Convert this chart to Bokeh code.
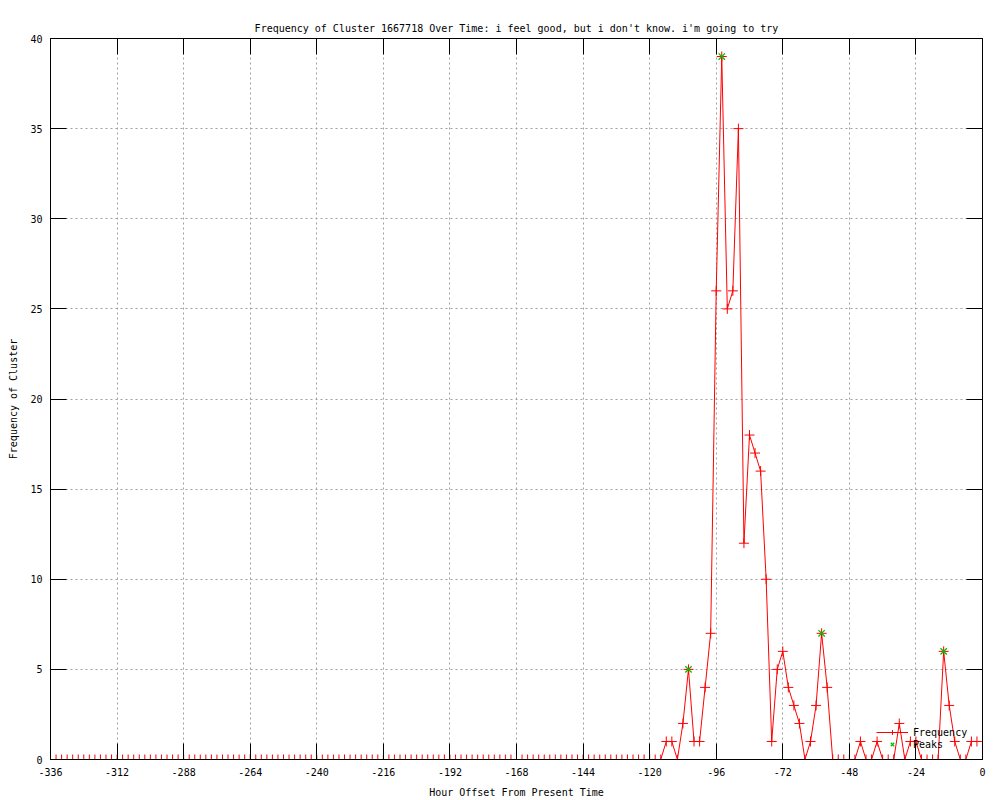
from bokeh.plotting import figure
from bokeh.models import Range1d, LinearAxis, FixedTicker, Legend, LegendItem, Title
from bokeh.embed import file_html
from bokeh.resources import INLINE

# ---- data ----
hours = list(range(-336, 0, 2))  # every two hours, -336 .. -2
frequency = [
    0, 0, 0, 0, 0, 0, 0, 0, 0, 0,   # -336 .. -318
    0, 0, 0, 0, 0, 0, 0, 0, 0, 0,   # -316 .. -298
    0, 0, 0, 0, 0, 0, 0, 0, 0, 0,   # -296 .. -278
    0, 0, 0, 0, 0, 0, 0, 0, 0, 0,   # -276 .. -258
    0, 0, 0, 0, 0, 0, 0, 0, 0, 0,   # -256 .. -238
    0, 0, 0, 0, 0, 0, 0, 0, 0, 0,   # -236 .. -218
    0, 0, 0, 0, 0, 0, 0, 0, 0, 0,   # -216 .. -198
    0, 0, 0, 0, 0, 0, 0, 0, 0, 0,   # -196 .. -178
    0, 0, 0, 0, 0, 0, 0, 0, 0, 0,   # -176 .. -158
    0, 0, 0, 0, 0, 0, 0, 0, 0, 0,   # -156 .. -138
    0, 0, 0, 0, 0, 0, 0, 0, 0, 0,   # -136 .. -118
    0,                              # -116
    1, 1, 0, 2, 5, 1, 1, 4, 7, 26,  # -114 .. -96
    39, 25, 26, 35, 12, 18, 17, 16, 10, 1,  # -94 .. -76
    5, 6, 4, 3, 2, 0, 1, 3, 7, 4,   # -74 .. -56
    0, 0, 0, 0, 0, 1, 0, 0, 1, 0,   # -54 .. -36
    0, 0, 2, 0, 1, 1, 0, 0, 0, 0,   # -34 .. -16
    6, 3, 1, 0, 0, 1, 1,            # -14 .. -2
]
peak_hours = [-106, -94, -58, -14]
peak_values = [5, 39, 7, 6]

x_ticks = [-336, -312, -288, -264, -240, -216, -192, -168, -144, -120, -96, -72, -48, -24, 0]
x_tick_labels = ["-336", "-312", "-288", "-264", "-240", "-216", "-192", "-168",
                 "-144", "-120", "-96", "-72", "-48", "-24", "0"]
y_ticks = [0, 5, 10, 15, 20, 25, 30, 35, 40]
y_tick_labels = ["0", "5", "10", "15", "20", "25", "30", "35", "40"]
title_text = "Frequency of Cluster 1667718 Over Time: i feel good, but i don't know. i'm going to try"

FONT = "DejaVu Sans Mono"
FS = "10px"

p = figure(width=1000, height=800, output_backend="svg", toolbar_location=None,
           x_range=Range1d(-336, 0), y_range=Range1d(0, 40),
           min_border_left=50, min_border_right=18, min_border_top=38, min_border_bottom=40)
p.title = None

p.background_fill_color = "white"
p.border_fill_color = "white"
p.outline_line_color = "black"
p.outline_line_width = 1

# axes
p.xaxis.ticker = FixedTicker(ticks=x_ticks)
p.xaxis.major_label_overrides = {t: s for t, s in zip(x_ticks, x_tick_labels)}
p.yaxis.ticker = FixedTicker(ticks=y_ticks)
p.yaxis.major_label_overrides = {t: s for t, s in zip(y_ticks, y_tick_labels)}
p.xaxis.axis_label = "Hour Offset From Present Time"
p.yaxis.axis_label = "Frequency of Cluster"

for ax in list(p.xaxis) + list(p.yaxis):
    ax.major_tick_in = 16
    ax.major_tick_out = 0
    ax.minor_tick_in = 0
    ax.minor_tick_out = 0
    ax.axis_line_color = "black"
    ax.major_tick_line_color = "black"
    ax.major_label_text_font = FONT
    ax.major_label_text_font_size = FS
    ax.major_label_text_color = "black"
    ax.axis_label_text_font = FONT
    ax.axis_label_text_font_size = FS
    ax.axis_label_text_font_style = "normal"
    ax.axis_label_text_color = "black"

p.xaxis.major_label_standoff = 8
p.xaxis.axis_label_standoff = 8
p.yaxis.major_label_standoff = 8
p.yaxis.axis_label_standoff = 8

# mirrored ticks on top and right (no labels)
top = LinearAxis(ticker=FixedTicker(ticks=x_ticks),
                 major_label_overrides={t: "" for t in x_ticks},
                 major_label_text_font=FONT, major_label_text_font_size=FS,
                 major_tick_in=16, major_tick_out=0, minor_tick_in=0, minor_tick_out=0,
                 major_label_standoff=8, axis_line_color="black", major_tick_line_color="black")
right = LinearAxis(ticker=FixedTicker(ticks=y_ticks),
                   major_label_overrides={t: "" for t in y_ticks},
                   major_label_text_font=FONT, major_label_text_font_size=FS,
                   major_tick_in=16, major_tick_out=0, minor_tick_in=0, minor_tick_out=0,
                   major_label_standoff=0, axis_line_color="black", major_tick_line_color="black")
p.add_layout(top, "above")
p.add_layout(right, "right")

title = Title(text=title_text, text_font=FONT, text_font_size=FS, text_font_style="normal",
              text_color="black", align="center")
p.add_layout(title, "above")

# grid
p.xgrid.ticker = FixedTicker(ticks=x_ticks)
p.ygrid.ticker = FixedTicker(ticks=y_ticks)
for g in (p.xgrid, p.ygrid):
    g.grid_line_color = "#a0a0a0"
    g.grid_line_dash = "2 3"
    g.grid_line_width = 1

# data
line_r = p.line(hours, frequency, line_color="#ff0000", line_width=1)
cross_r = p.scatter(hours, frequency, marker="cross", size=10, line_color="#ff0000", line_width=1)
peak_r = p.scatter(peak_hours, peak_values, marker="x", size=9, line_color="#00c000", line_width=1.3)

legend = Legend(items=[LegendItem(label="Frequency", renderers=[line_r, cross_r]),
                       LegendItem(label="Peaks", renderers=[peak_r])],
                location=(826, 9), background_fill_alpha=0, border_line_alpha=0,
                label_text_font=FONT, label_text_font_size=FS, label_text_color="black",
                glyph_width=32, glyph_height=12, label_height=12, spacing=0, padding=0,
                margin=0, label_standoff=5)
p.add_layout(legend)

open("out.html", "w").write(file_html(p, INLINE))
